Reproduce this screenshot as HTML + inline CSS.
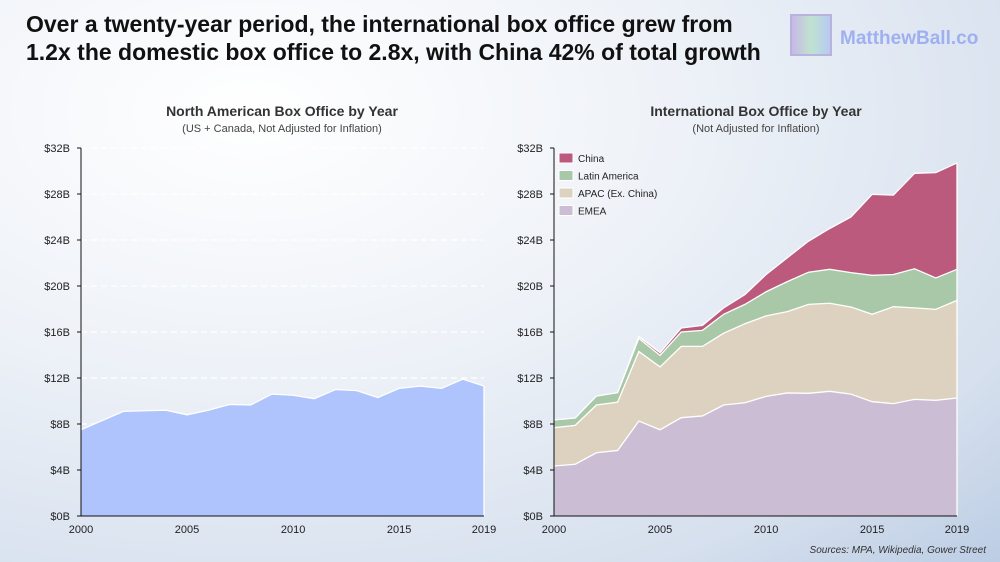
<!DOCTYPE html>
<html><head><meta charset="utf-8"><style>
body{margin:0;width:1000px;height:562px;overflow:hidden;font-family:"Liberation Sans",sans-serif;}
#bg{position:absolute;left:0;top:0;width:1000px;height:562px;background:radial-gradient(ellipse at 25% 20%,#ffffff 0%,#eef2f8 40%,#d6e0ee 80%,#bccde4 100%);}
</style></head><body>
<div id="bg"></div>
<svg id="chart" width="1000" height="562" style="position:absolute;left:0;top:0">
<text x="26" y="32" font-size="23" font-weight="bold" fill="#111">Over a twenty-year period, the international box office grew from</text>
<text x="26" y="60" font-size="23" font-weight="bold" fill="#111">1.2x the domestic box office to 2.8x, with China 42% of total growth</text>
<g>
<defs><linearGradient id="lg" x1="0" x2="1"><stop offset="0" stop-color="#c9b6e8"/><stop offset="0.5" stop-color="#bfe3cf"/><stop offset="1" stop-color="#b8c8f5"/></linearGradient></defs>
<rect x="791" y="15" width="40" height="40" fill="url(#lg)" stroke="#b9b2dc" stroke-width="2"/>
<text x="840" y="44" font-size="19" font-weight="bold" fill="#9fb0f0">MatthewBall.co</text>
</g>
<text x="282" y="116" text-anchor="middle" font-size="14" font-weight="bold" fill="#333">North American Box Office by Year</text>
<text x="282" y="132" text-anchor="middle" font-size="11" fill="#444">(US + Canada, Not Adjusted for Inflation)</text>
<text x="756" y="116" text-anchor="middle" font-size="14" font-weight="bold" fill="#333">International Box Office by Year</text>
<text x="756" y="132" text-anchor="middle" font-size="11" fill="#444">(Not Adjusted for Inflation)</text>
<g id="left"></g><g id="right"></g>
<text x="986" y="553" text-anchor="end" font-size="10" font-style="italic" fill="#333">Sources: MPA, Wikipedia, Gower Street</text>
</svg>
<script>
const years=[2000,2001,2002,2003,2004,2005,2006,2007,2008,2009,2010,2011,2012,2013,2014,2015,2016,2017,2018,2019];
const yTicks=[0,4,8,12,16,20,24,28,32];
const xTicks=[2000,2005,2010,2015,2019];
const northAmerica=[7.5,8.3,9.1,9.15,9.2,8.8,9.2,9.7,9.65,10.6,10.5,10.2,11.0,10.9,10.3,11.1,11.3,11.1,11.9,11.3];
const emea=[4.35,4.5,5.5,5.7,8.26,7.5,8.55,8.7,9.65,9.85,10.4,10.7,10.67,10.84,10.6,9.94,9.77,10.14,10.06,10.26];
const apac=[3.33,3.38,4.15,4.2,6.04,5.46,6.2,6.05,6.25,6.87,7.0,7.07,7.73,7.66,7.57,7.6,8.43,7.96,7.91,8.49];
const latam=[0.67,0.64,0.78,0.82,1.15,1.01,1.25,1.39,1.64,1.68,2.1,2.61,2.8,2.95,2.99,3.39,2.8,3.4,2.73,2.7];
const china=[0,0,0,0,0.15,0.23,0.35,0.44,0.56,0.85,1.5,2.08,2.7,3.55,4.84,7.04,6.9,8.3,9.16,9.25];
const NS='http://www.w3.org/2000/svg';
function mk(tag,attrs,parent){const e=document.createElementNS(NS,tag);for(const k in attrs)e.setAttribute(k,attrs[k]);parent.appendChild(e);return e;}
const y=v=>516-v*(368/32);
function axes(g,x0,x1,grid){
  const x=yr=>x0+(yr-2000)*(x1-x0)/19;
  if(grid) yTicks.forEach(t=>{if(t>0){const l=mk('line',{x1:x0,x2:x1,y1:y(t),y2:y(t),stroke:'#fff','stroke-width':1.2,'stroke-dasharray':'6,4'},g);
    
    }});
  return x;
}
function drawAxes(g,x0,x1,x){
  const a=mk('line',{x1:x0,x2:x0,y1:y(32),y2:y(0),stroke:'#111','stroke-width':1},g);
  
  
  const b=mk('line',{x1:x0,x2:x1,y1:y(0),y2:y(0),stroke:'#111','stroke-width':1},g);
  
  
  yTicks.forEach(t=>{mk('line',{x1:x0-4,x2:x0,y1:y(t),y2:y(t),stroke:'#111'},g);
    const tx=mk('text',{x:x0-11,y:y(t)+4,'text-anchor':'end','font-size':11,fill:'#222'},g);tx.textContent='$'+t+'B';
    
    });
  xTicks.forEach(t=>{const tx=mk('text',{x:x(t),y:533,'text-anchor':'middle','font-size':11,fill:'#222'},g);tx.textContent=t;
    
    });
}
function area(g,x,lo,hi,fill,name){
  let d='M'+years.map((yr,i)=>x(yr)+','+y(hi[i])).join('L');
  d+='L'+years.slice().reverse().map((yr,j)=>{const i=years.length-1-j;return x(yr)+','+y(lo[i]);}).join('L')+'Z';
  const p=mk('path',{d:d,fill:fill},g);
  
  
  const l=mk('polyline',{points:years.map((yr,i)=>x(yr)+','+y(hi[i])).join(' '),fill:'none',stroke:'#fff','stroke-width':1.3},g);
  
  
}
const L=document.getElementById('left'),R=document.getElementById('right');
const xl=axes(L,81,484,true);
const zero=years.map(()=>0);
area(L,xl,zero,northAmerica,'#afc4fc','north-america-area');
mk('line',{x1:484,x2:484,y1:y(northAmerica[19]),y2:y(0),stroke:'#fff','stroke-width':1.3},L);
drawAxes(L,81,484,xl);
const xr=axes(R,554,957,false);
const s1=emea, s2=emea.map((v,i)=>v+apac[i]), s3=s2.map((v,i)=>v+latam[i]), s4=s3.map((v,i)=>v+china[i]);
area(R,xr,s3,s4,'#bb5a7c','china-area');
area(R,xr,s2,s3,'#a8c8a7','latin-america-area');
area(R,xr,s1,s2,'#dcd2bf','apac-area');
area(R,xr,zero,s1,'#cbbdd3','emea-area');
mk('line',{x1:957,x2:957,y1:y(s4[19]),y2:y(0),stroke:'#fff','stroke-width':1.3},R);
drawAxes(R,554,957,xr);
const leg=[['China','#bb5a7c'],['Latin America','#a8c8a7'],['APAC (Ex. China)','#dcd2bf'],['EMEA','#cbbdd3']];
leg.forEach((e,i)=>{const gy=153+i*17.5;
  const r=mk('rect',{x:559,y:gy,width:14,height:10,fill:e[1],stroke:'#fff','stroke-width':1},R);
  
  
  const t=mk('text',{x:578,y:gy+9,'font-size':10,fill:'#222'},R);t.textContent=e[0];
  
  });
</script>
</body></html>
